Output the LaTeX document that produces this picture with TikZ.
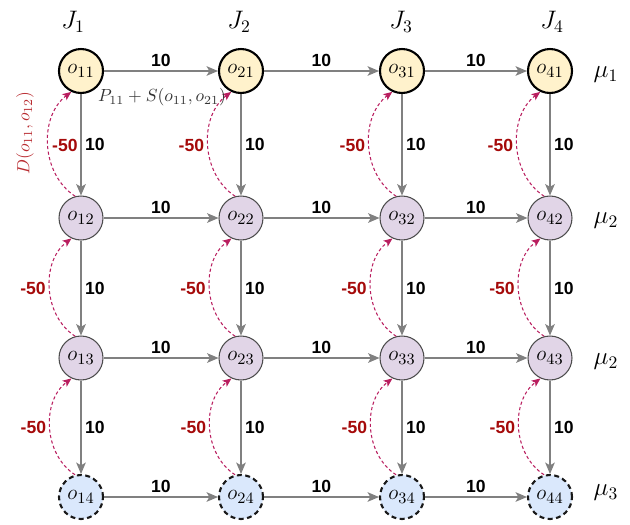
\documentclass[tikz,border=0pt]{standalone}
\usepackage{amsmath, amssymb}
\usepackage{fontspec}
\newfontfamily\labfont{Liberation Sans}
\usetikzlibrary{arrows.meta, positioning}

\definecolor{opyellow}{HTML}{FFF2CC}
\definecolor{oppurple}{HTML}{E1D5E7}
\definecolor{opblue}{HTML}{DAE8FC}
\definecolor{arcred}{RGB}{185,30,95}
\definecolor{negred}{RGB}{165,10,10}
\definecolor{dred}{RGB}{185,45,50}
\definecolor{edgegray}{RGB}{128,128,128}

\begin{document}
\begin{tikzpicture}[
    x=0.02cm, y=-0.02cm,
    op/.style={circle, minimum size=0.88cm, inner sep=0pt, font=\fontsize{13}{15}\selectfont},
    first_op/.style={op, draw=black, line width=1.2pt, fill=opyellow},
    mid_op/.style={op, draw=black!70, line width=0.6pt, fill=oppurple},
    last_op/.style={op, draw=black!90, line width=1.2pt, dash pattern=on 2.8pt off 2pt, fill=opblue},
    edge/.style={-{Stealth[length=6.5pt, width=5.5pt, inset=1.6pt]}, line width=0.6pt, color=edgegray},
    dep/.style={-{Stealth[length=5pt, width=4.2pt, inset=1.2pt]}, line width=0.6pt, color=arcred, dash pattern=on 1.8pt off 1.4pt},
    hlab/.style={above, inner sep=2pt, text=black, font=\labfont\bfseries\fontsize{10}{11}\selectfont},
    vlab/.style={right, inner sep=2pt, text=black, font=\labfont\bfseries\fontsize{10}{11}\selectfont},
    neg/.style={left, inner sep=2pt, text=negred, font=\labfont\bfseries\fontsize{10}{11}\selectfont},
    head/.style={font=\Large}
]
\useasboundingbox (0,0) rectangle (630,525);

% Trabajos y maquinas
\node[head] (J1) at (73,22) {$J_1$};
\node[head] (J2) at (239,22) {$J_2$};
\node[head] (J3) at (401,22) {$J_3$};
\node[head] (J4) at (552,22) {$J_4$};
\node[head] (m1) at (606,75) {$\mu_1$};
\node[head] (m2) at (606,221) {$\mu_2$};
\node[head] (m3) at (606,362) {$\mu_2$};
\node[head] (m4) at (606,493) {$\mu_3$};

% Operaciones
\node[first_op] (o11) at (81,71) {$o_{11}$};
\node[first_op] (o21) at (241,71) {$o_{21}$};
\node[first_op] (o31) at (402,71) {$o_{31}$};
\node[first_op] (o41) at (550,71) {$o_{41}$};
\node[mid_op] (o12) at (81,218) {$o_{12}$};
\node[mid_op] (o22) at (241,218) {$o_{22}$};
\node[mid_op] (o32) at (402,218) {$o_{32}$};
\node[mid_op] (o42) at (550,218) {$o_{42}$};
\node[mid_op] (o13) at (81,358) {$o_{13}$};
\node[mid_op] (o23) at (241,358) {$o_{23}$};
\node[mid_op] (o33) at (402,358) {$o_{33}$};
\node[mid_op] (o43) at (550,358) {$o_{43}$};
\node[last_op] (o14) at (81,497) {$o_{14}$};
\node[last_op] (o24) at (241,497) {$o_{24}$};
\node[last_op] (o34) at (402,497) {$o_{34}$};
\node[last_op] (o44) at (550,497) {$o_{44}$};

% Aristas horizontales
\draw[edge] (o11) -- node[hlab] {10} (o21);
\draw[edge] (o21) -- node[hlab] {10} (o31);
\draw[edge] (o31) -- node[hlab] {10} (o41);
\draw[edge] (o12) -- node[hlab] {10} (o22);
\draw[edge] (o22) -- node[hlab] {10} (o32);
\draw[edge] (o32) -- node[hlab] {10} (o42);
\draw[edge] (o13) -- node[hlab] {10} (o23);
\draw[edge] (o23) -- node[hlab] {10} (o33);
\draw[edge] (o33) -- node[hlab] {10} (o43);
\draw[edge] (o14) -- node[hlab] {10} (o24);
\draw[edge] (o24) -- node[hlab] {10} (o34);
\draw[edge] (o34) -- node[hlab] {10} (o44);

% Aristas verticales
\draw[edge] (o11) -- node[vlab] {10} (o12);
\draw[edge] (o12) -- node[vlab] {10} (o13);
\draw[edge] (o13) -- node[vlab] {10} (o14);
\draw[edge] (o21) -- node[vlab] {10} (o22);
\draw[edge] (o22) -- node[vlab] {10} (o23);
\draw[edge] (o23) -- node[vlab] {10} (o24);
\draw[edge] (o31) -- node[vlab] {10} (o32);
\draw[edge] (o32) -- node[vlab] {10} (o33);
\draw[edge] (o33) -- node[vlab] {10} (o34);
\draw[edge] (o41) -- node[vlab] {10} (o42);
\draw[edge] (o42) -- node[vlab] {10} (o43);
\draw[edge] (o43) -- node[vlab] {10} (o44);

% Arcos de retorno
\draw[dep] (o12.105) to[bend left=55] node[neg, right] {-50} (o11.245);
\draw[dep] (o13.105) to[bend left=55] node[neg] {-50} (o12.245);
\draw[dep] (o14.105) to[bend left=55] node[neg] {-50} (o13.245);
\draw[dep] (o22.105) to[bend left=55] node[neg] {-50} (o21.245);
\draw[dep] (o23.105) to[bend left=55] node[neg] {-50} (o22.245);
\draw[dep] (o24.105) to[bend left=55] node[neg] {-50} (o23.245);
\draw[dep] (o32.105) to[bend left=55] node[neg] {-50} (o31.245);
\draw[dep] (o33.105) to[bend left=55] node[neg] {-50} (o32.245);
\draw[dep] (o34.105) to[bend left=55] node[neg] {-50} (o33.245);
\draw[dep] (o42.105) to[bend left=55] node[neg] {-50} (o41.245);
\draw[dep] (o43.105) to[bend left=55] node[neg] {-50} (o42.245);
\draw[dep] (o44.105) to[bend left=55] node[neg] {-50} (o43.245);

% Etiquetas de costo
\node[text=black!80] (cost) at (162,97) {$P_{11}+S(o_{11},o_{21})$};
\node[text=dred, rotate=90] (delay) at (25,133) {$D(o_{11},o_{12})$};

\end{tikzpicture}
\end{document}
